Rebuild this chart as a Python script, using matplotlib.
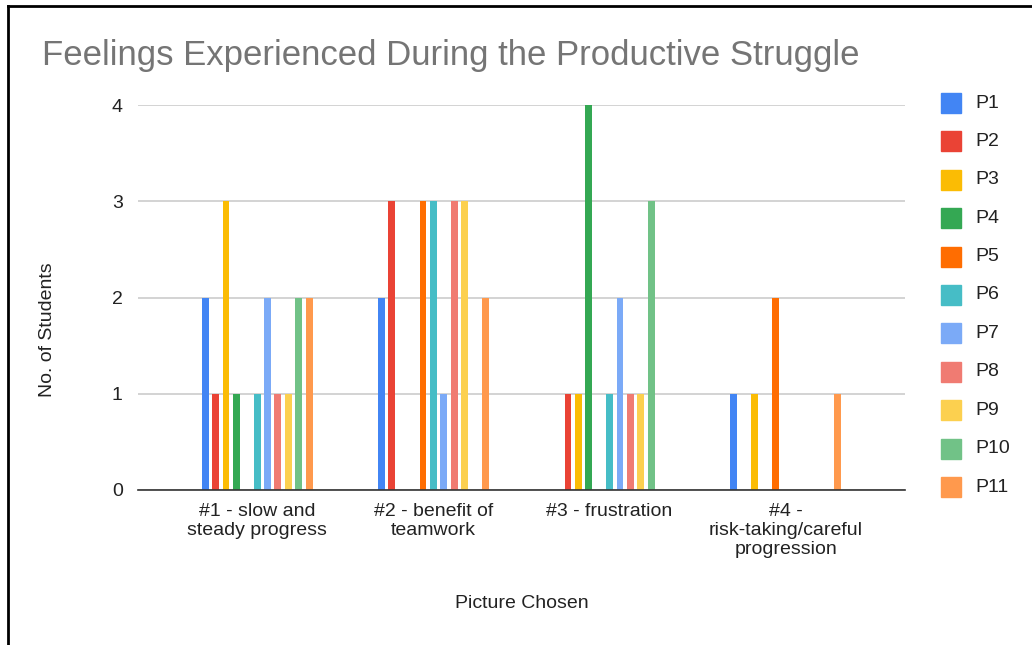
import matplotlib.pyplot as plt
import numpy as np

plt.rcParams['font.family'] = ['Liberation Sans', 'DejaVu Sans']

categories = ["#1 - slow and\nsteady progress", "#2 - benefit of\nteamwork",
              "#3 - frustration", "#4 -\nrisk-taking/careful\nprogression"]
series = ["P1", "P2", "P3", "P4", "P5", "P6", "P7", "P8", "P9", "P10", "P11"]
values = {
    "P1": [2, 2, 0, 1],
    "P2": [1, 3, 1, 0],
    "P3": [3, 0, 1, 1],
    "P4": [1, 0, 4, 0],
    "P5": [0, 3, 0, 2],
    "P6": [1, 3, 1, 0],
    "P7": [2, 1, 2, 0],
    "P8": [1, 3, 1, 0],
    "P9": [1, 3, 1, 0],
    "P10": [2, 0, 3, 0],
    "P11": [2, 2, 0, 1],
}
colors = ["#4285F4", "#EA4335", "#FBBC04", "#34A853", "#FF6D01", "#46BDC6",
          "#7BAAF7", "#F07B72", "#FCD04F", "#71C287", "#FF994D"]

fig = plt.figure(figsize=(10.32, 6.45), dpi=100)
ax = fig.add_axes([138 / 1032, 1 - 490 / 645, (905 - 138) / 1032, (490 - 105) / 645])

x = np.arange(len(categories))
step = 0.059
width = 0.039
for i, s in enumerate(series):
    ax.bar(x + (i - 5) * step, values[s], width, color=colors[i], zorder=3)

ax.set_xlim(-0.676, 3.676)
ax.set_ylim(0, 4)
ax.set_yticks([0, 1, 2, 3, 4])
ax.set_xticks(x)
ax.set_xticklabels(categories, fontsize=14, linespacing=1.18)
ax.tick_params(axis='both', length=0, labelsize=14, colors='#222222')
ax.tick_params(axis='y', pad=11)
ax.tick_params(axis='x', pad=9)
ax.grid(axis='y', color='#cccccc', linewidth=1.2, zorder=0)
for sp in ['top', 'right', 'left']:
    ax.spines[sp].set_visible(False)
ax.spines['bottom'].set_color('#333333')
ax.spines['bottom'].set_linewidth(1.2)
ax.spines['bottom'].set_zorder(4)

fig.text(42 / 1032, 1 - 55 / 645, "Feelings Experienced During the Productive Struggle",
         fontsize=25, color='#757575', va='center', ha='left')
fig.text(48 / 1032, 1 - 330 / 645, "No. of Students", rotation=90, fontsize=14,
         color='#222222', va='center', ha='center')
fig.text(522 / 1032, 1 - 604 / 645, "Picture Chosen", fontsize=14,
         color='#222222', va='center', ha='center')

# legend
for i, s in enumerate(series):
    yc = 103 + i * 38.4
    fig.patches.append(plt.Rectangle((941 / 1032, 1 - (yc + 10) / 645), 20 / 1032, 20 / 645,
                                     transform=fig.transFigure, color=colors[i]))
    fig.text(975 / 1032, 1 - yc / 645, s, fontsize=14, color='#222222',
             va='center', ha='left')

# outer frame
fig.add_artist(plt.Line2D([8 / 1032, 8 / 1032], [0, 1 - 6 / 645], color='black', lw=2,
                          transform=fig.transFigure))
fig.add_artist(plt.Line2D([8 / 1032, 1.0], [1 - 6 / 645, 1 - 6 / 645], color='black', lw=2,
                          transform=fig.transFigure))

fig.savefig("out.png", dpi=100, facecolor='white')
